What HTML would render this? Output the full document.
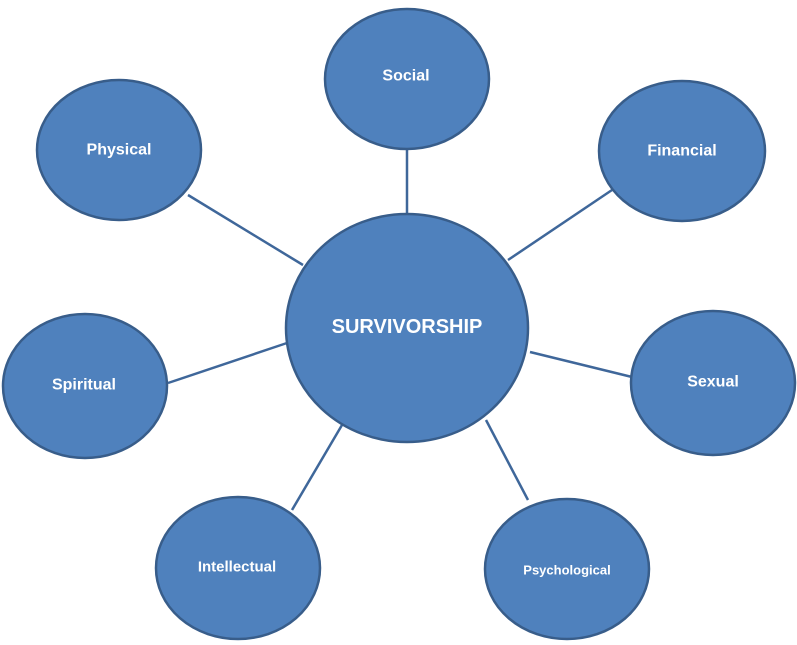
<!DOCTYPE html>
<html><head><meta charset="utf-8"><style>
html,body{margin:0;padding:0;background:#fff;}
svg{display:block}
text{font-family:"Liberation Sans",sans-serif;font-weight:bold;fill:#fff;text-anchor:middle;dominant-baseline:central}
</style></head><body>
<svg width="797" height="645" viewBox="0 0 797 645">
<g stroke="#3F679A" stroke-width="2.5">
<line x1="407" y1="150" x2="407" y2="213"/>
<line x1="188" y1="195" x2="303" y2="265"/>
<line x1="612" y1="190" x2="508" y2="260"/>
<line x1="168" y1="383" x2="287" y2="343"/>
<line x1="530" y1="352" x2="632" y2="377"/>
<line x1="292" y1="510" x2="342" y2="425"/>
<line x1="528" y1="500" x2="486" y2="420"/>
</g>
<g fill="#4F81BD" stroke="#385D8A" stroke-width="2.5">
<ellipse cx="407" cy="328" rx="121" ry="114"/>
<ellipse cx="407" cy="79" rx="82" ry="70"/>
<ellipse cx="119" cy="150" rx="82" ry="70"/>
<ellipse cx="682" cy="151" rx="83" ry="70"/>
<ellipse cx="85" cy="386" rx="82" ry="72"/>
<ellipse cx="713" cy="383" rx="82" ry="72"/>
<ellipse cx="238" cy="568" rx="82" ry="71"/>
<ellipse cx="567" cy="569" rx="82" ry="70"/>
</g>
<text x="407" y="327" font-size="20">SURVIVORSHIP</text>
<text x="406" y="76" font-size="16">Social</text>
<text x="119" y="150" font-size="16">Physical</text>
<text x="682" y="151" font-size="16">Financial</text>
<text x="84" y="385" font-size="16">Spiritual</text>
<text x="713" y="382" font-size="16">Sexual</text>
<text x="237" y="567" font-size="15">Intellectual</text>
<text x="567" y="570" font-size="13">Psychological</text>
</svg>
</body></html>
